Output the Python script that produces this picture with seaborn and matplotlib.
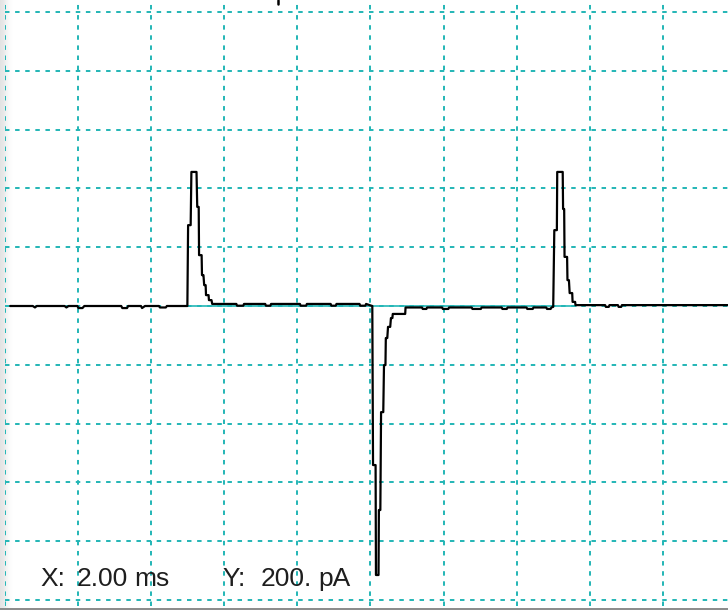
import numpy as np
import pandas as pd
import matplotlib
matplotlib.use("Agg")
import matplotlib.pyplot as plt
from matplotlib.lines import Line2D
import seaborn as sns

# ---- data (time in ms, current in pA) ----
time_ms = [0.14, 0.76, 0.82, 0.87, 1.63, 1.68, 1.74, 1.98, 2.01, 2.12, 2.17, 3.18, 3.21, 3.34, 3.37,
           3.72, 3.75, 3.83, 4.21, 4.24, 4.40, 4.43, 4.99,
           5.01, 5.08, 5.10, 5.24, 5.26, 5.30, 5.31, 5.38, 5.39, 5.43, 5.45, 5.49, 5.50, 5.57, 5.58, 5.65, 5.67,
           6.33, 6.35, 6.52, 6.54, 7.12, 7.14, 7.26, 7.28, 8.07, 8.09, 8.24, 8.26, 8.91, 8.93, 9.05, 9.07,
           9.70, 9.72, 9.86, 9.88, 9.98, 10.05,
           10.07, 10.14, 10.15, 10.22, 10.23, 10.27, 10.29, 10.35, 10.37, 10.41, 10.42, 10.46, 10.48, 10.54,
           10.56, 10.60, 10.61, 10.95, 10.96,
           11.41, 11.43, 11.53, 11.55, 11.96, 11.98, 12.13, 12.15, 12.77, 12.79, 13.02, 13.04, 13.59, 13.61,
           13.73, 13.75, 14.27, 14.29, 14.44, 14.46, 14.81, 14.83, 14.93, 14.95, 15.00,
           15.03, 15.10, 15.11, 15.26, 15.27, 15.30, 15.31, 15.38, 15.39, 15.43, 15.45, 15.52, 15.53, 15.60,
           15.61, 16.42, 16.44, 16.52, 16.54, 16.77, 16.79, 16.86, 16.88, 19.80]
current_pA = [0, 0, -5, 0, 0, -5, 0, 0, -7, -7, 0, 0, -7, -7, 0,
              0, -7, 0, 0, -5, -5, 0, 0,
              275, 275, 456, 456, 337, 337, 173, 173, 105, 105, 71, 71, 37, 37, 20, 20, 7,
              7, 1, 1, 7, 7, 1, 1, 7, 7, 1, 1, 7, 7, 1, 1, 7,
              7, 1, 1, 7, 3, 0,
              -541, -541, -915, -915, -694, -694, -361, -361, -201, -201, -109, -109, -71, -71,
              -41, -41, -27, -27, -5,
              -5, -10, -10, -5, -5, -10, -10, -5, -5, -10, -10, -5, -5, -10,
              -10, -5, -5, -10, -10, -5, -5, -10, -10, -5, -3,
              258, 258, 456, 456, 330, 330, 167, 167, 88, 88, 44, 44, 14, 14,
              3, 3, -3, -3, 3, 3, -3, -3, 3, 3]

baseline_t = [4.97, 15.62]
baseline_I = [0, 0]

x_grid_ms = [0, 2, 4, 6, 8, 10, 12, 14, 16, 18]
y_grid_pA = [-1000, -800, -600, -400, -200, 0, 200, 400, 600, 800, 1000]

x_scale_label = ["X:", "2.00", "ms"]
y_scale_label = ["Y:", "200.", "pA"]

# ---- styling ----
sns.set_theme(style="white")
plt.rcParams["font.family"] = ["Liberation Sans", "DejaVu Sans"]

W, H = 728, 610
TEAL = "#22b6b6"
fig = plt.figure(figsize=(W / 100, H / 100), dpi=100)
fig.patch.set_facecolor("white")

# left grey shaded strip
gax = fig.add_axes([0, 0, 16 / W, 1])
grad = np.array([[0.89, 0.895, 0.90, 0.91, 0.92, 0.935, 0.95, 0.96, 0.97, 0.978, 0.985,
                  0.99, 0.994, 0.997, 1.0, 1.0]])
gax.imshow(grad, aspect="auto", cmap="gray", vmin=0, vmax=1, interpolation="nearest")
gax.axis("off")

# main axes
px_per_ms = 36.8
px_per_pA = 0.294
ax = fig.add_axes([5 / W, (H - 606) / H, (W - 5) / W, 606 / H])
ax.set_facecolor("none")

df = pd.DataFrame({"t": time_ms, "I": current_pA})
bdf = pd.DataFrame({"t": baseline_t, "I": baseline_I})

sns.lineplot(data=bdf, x="t", y="I", ax=ax, color=TEAL, lw=1.2, sort=False,
             estimator=None, zorder=2)
sns.lineplot(data=df, x="t", y="I", ax=ax, color="black", lw=1.6, sort=False,
             estimator=None, zorder=3)

ax.set_xlim(5 / px_per_ms, W / px_per_ms)
ax.set_ylim((306 - 606) / px_per_pA, 306 / px_per_pA)
ax.set_xticks(x_grid_ms)
ax.set_yticks(y_grid_pA)
ax.set_xticklabels([])
ax.set_yticklabels([])
ax.tick_params(length=0)
ax.set_xlabel("")
ax.set_ylabel("")
for s in ax.spines.values():
    s.set_visible(False)
ax.grid(True, color=TEAL, lw=1.4, linestyle=(0, (2.3, 2.9)), zorder=1)
ax.set_axisbelow(True)

# scale annotation text
tc = "#1e1e1e"
fs = 19
base_y = 1 - 586 / H
for txt, xp in zip(x_scale_label, [40, 77, 134]):
    fig.text(xp / W, base_y, txt, fontsize=fs, color=tc, va="baseline", ha="left")
for txt, xp in zip(y_scale_label, [222, 261, 318]):
    fig.text(xp / W, base_y, txt, fontsize=fs, color=tc, va="baseline", ha="left")

# small dark mark at top edge
fig.add_artist(Line2D([277.5 / W, 277.5 / W], [1 - 4 / H, 1.0], transform=fig.transFigure,
                      color="black", lw=1.8))

# bottom border line
fig.add_artist(Line2D([0, 1], [1.5 / H, 1.5 / H], transform=fig.transFigure,
                      color="#8a8a8a", lw=1.4))

fig.savefig("out.png", dpi=100)
